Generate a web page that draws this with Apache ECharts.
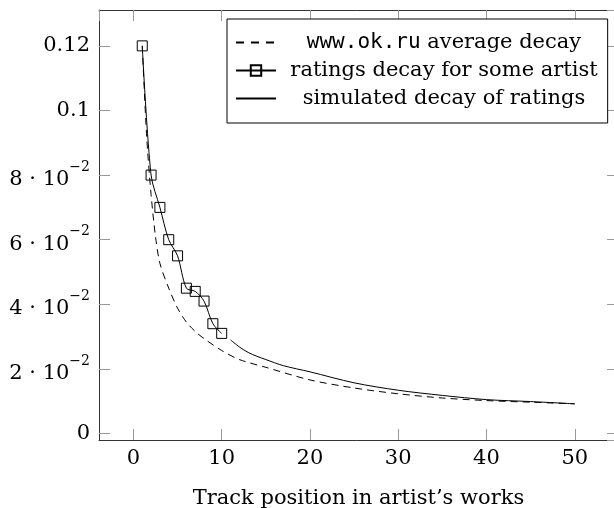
<!DOCTYPE html>
<html style="height: 100%">
<head>
    <meta charset="utf-8">
</head>
<body style="height: 100%; margin: 0; background: #fff">
<div id="container" style="width: 614px; height: 508px"></div>
<script type="text/javascript" src="https://cdn.jsdelivr.net/npm/echarts@6/dist/echarts.min.js"></script>
<script type="text/javascript">
// www.ok.ru average decay (dashed)
var avgX = [1, 1.5, 2, 2.5, 3, 4, 5, 6, 7, 8, 10, 12, 15, 20, 25, 30, 35, 40, 45, 50];
var avgY = [0.12, 0.092, 0.074, 0.061, 0.0527, 0.045, 0.0388, 0.0345, 0.0316, 0.0294, 0.0257, 0.0229, 0.0205, 0.0166, 0.0141, 0.0123, 0.011, 0.0102, 0.0097, 0.0092];
// ratings decay for some artist (squares)
var artX = [1, 2, 3, 4, 5, 6, 7, 8, 9, 10];
var artY = [0.12, 0.08, 0.07, 0.06, 0.055, 0.045, 0.044, 0.041, 0.034, 0.031];
// simulated decay of ratings (solid)
var simX = [11, 12, 13, 14, 15, 17, 20, 25, 30, 35, 40, 45, 50];
var simY = [0.029, 0.0268, 0.0251, 0.0239, 0.0229, 0.021, 0.0191, 0.0157, 0.0134, 0.0118, 0.0105, 0.0099, 0.0092];

var names = ['www.ok.ru average decay', 'ratings decay for some artist', 'simulated decay of ratings'];
var xTitle = 'Track position in artist\u2019s works';

var serif = 'DejaVu Serif';
var mono = 'DejaVu Sans Mono';
var fs = 21;

function pairs(xs, ys) {
    var out = [];
    for (var i = 0; i < xs.length; i++) out.push([xs[i], ys[i]]);
    return out;
}

function yLabel(v) {
    if (Math.abs(v) < 1e-9) return '0';
    if (v >= 0.0999) return String(Math.round(v * 100) / 100);
    var k = Math.round(v * 100);
    return '{a|' + k + ' \u00b7 10}{s|\u22122}';
}

var dom = document.getElementById('container');
var myChart = echarts.init(dom);

var tickStyle = { show: true, inside: true, length: 11, lineStyle: { color: '#999', width: 1 } };
var lineAx = { show: true, onZero: false, lineStyle: { color: '#333', width: 1 } };

var option = {
    animation: false,
    backgroundColor: '#fff',
    grid: { left: 99, top: 10, right: -4, bottom: 68, containLabel: false, outerBoundsMode: 'none' },
    legend: {
        orient: 'vertical',
        left: 227, top: 19,
        padding: [13, 10, 14, 8],
        itemGap: 7,
        itemWidth: 40, itemHeight: 13, itemTextGap: 5,
        borderColor: '#000', borderWidth: 1,
        backgroundColor: '#fff',
        data: [
            { name: names[0], itemStyle: { opacity: 0 }, lineStyle: { type: [8, 7] } },
            { name: names[1] },
            { name: names[2], itemStyle: { opacity: 0 } }
        ],
        formatter: function (name) {
            if (name === names[0]) return '{m|www.ok.ru}{c| average decay}';
            return '{c|' + name + '}';
        },
        textStyle: {
            fontFamily: serif, fontSize: fs, color: '#000', width: 326,
            rich: {
                c: { fontFamily: serif, fontSize: fs, lineHeight: 21, color: '#000', align: 'center' },
                m: { fontFamily: mono, fontSize: fs, lineHeight: 21, color: '#000', align: 'center' }
            }
        }
    },
    xAxis: [{
        type: 'value', min: -3.9, max: 54.9, splitNumber: 6,
        axisLine: lineAx, axisTick: tickStyle, splitLine: { show: false },
        axisLabel: { margin: 8, fontFamily: serif, fontSize: fs, color: '#000', showMinLabel: false, showMaxLabel: false },
        name: xTitle, nameLocation: 'middle', nameGap: 48,
        nameTextStyle: { fontFamily: serif, fontSize: fs, color: '#000' }
    }, {
        type: 'value', position: 'top', min: -3.9, max: 54.9, splitNumber: 6,
        axisLine: lineAx, axisTick: tickStyle, splitLine: { show: false },
        axisLabel: { show: false }
    }],
    yAxis: [{
        type: 'value', min: -0.002, max: 0.1311, splitNumber: 6,
        axisLine: lineAx, axisTick: tickStyle, splitLine: { show: false },
        axisLabel: {
            margin: 9, fontFamily: serif, fontSize: fs, color: '#000',
            showMinLabel: false, showMaxLabel: false,
            formatter: yLabel,
            rich: {
                a: { fontFamily: serif, fontSize: fs, lineHeight: 30, color: '#000', verticalAlign: 'bottom' },
                s: { fontFamily: serif, fontSize: 14, lineHeight: 14, color: '#000', verticalAlign: 'top' }
            }
        }
    }, {
        type: 'value', position: 'right', min: -0.002, max: 0.1311, splitNumber: 6,
        axisLine: lineAx, axisTick: tickStyle, splitLine: { show: false },
        axisLabel: { show: false }
    }],
    series: [{
        name: names[0], type: 'line', data: pairs(avgX, avgY),
        symbol: 'none', smooth: 0.3,
        lineStyle: { color: '#000', width: 1, type: [7, 5] },
        itemStyle: { color: '#000' }
    }, {
        name: names[1], type: 'line', data: pairs(artX, artY),
        symbol: 'rect', symbolSize: 10, smooth: 0.3,
        lineStyle: { color: '#000', width: 1 },
        itemStyle: { color: 'rgba(0,0,0,0)', borderColor: '#000', borderWidth: 1 }
    }, {
        name: names[2], type: 'line', data: pairs(simX, simY),
        symbol: 'none', smooth: 0.3,
        lineStyle: { color: '#000', width: 1 },
        itemStyle: { color: '#000' }
    }]
};
myChart.setOption(option);
</script>
</body>
</html>
